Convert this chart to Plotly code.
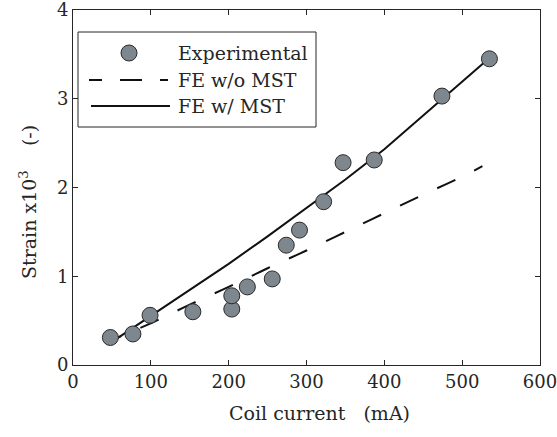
import plotly.graph_objects as go

# Experimental data
exp_current = [48, 77, 99, 154, 204, 204, 224, 256, 274, 291, 322, 347, 387, 474, 535]
exp_strain = [0.31, 0.35, 0.56, 0.60, 0.63, 0.78, 0.88, 0.97, 1.35, 1.52, 1.84, 2.28, 2.31, 3.03, 3.45]

# FE without MST (dashed)
fe_wo_current = [50, 100, 150, 200, 250, 300, 350, 400, 450, 500, 526]
fe_wo_strain = [0.28, 0.47, 0.68, 0.88, 1.09, 1.29, 1.50, 1.71, 1.92, 2.12, 2.24]

# FE with MST (solid)
fe_w_current = [50, 100, 150, 200, 250, 300, 350, 400, 450, 500, 535]
fe_w_strain = [0.26, 0.55, 0.84, 1.14, 1.45, 1.77, 2.09, 2.43, 2.81, 3.19, 3.46]

x_ticks = [0, 100, 200, 300, 400, 500, 600]
y_ticks = [0, 1, 2, 3, 4]

legend_labels = ["Experimental", "FE w/o MST", "FE w/ MST"]
x_title = "Coil current   (mA)"
y_title = "Strain x10<sup>3</sup>    (-)"

FONT = "DejaVu Serif"
AX = "#262626"
MARKER_FILL = "#7f878e"
MARKER_LINE = "#2a2a2a"
LINE_COL = "#111111"

fig = go.Figure()
fig.add_trace(go.Scatter(x=fe_wo_current, y=fe_wo_strain, mode="lines",
                         line=dict(color=LINE_COL, width=2, dash="10px,21px,10px,0px"),
                         name=legend_labels[1], showlegend=False))
fig.add_trace(go.Scatter(x=fe_w_current, y=fe_w_strain, mode="lines",
                         line=dict(color=LINE_COL, width=2),
                         name=legend_labels[2], showlegend=False))
fig.add_trace(go.Scatter(x=exp_current, y=exp_strain, mode="markers",
                         marker=dict(size=16, color=MARKER_FILL,
                                     line=dict(color=MARKER_LINE, width=1)),
                         name=legend_labels[0], showlegend=False))

W, H = 557, 437
L, R, T, B = 73, 540, 10, 365   # plot area in page pixels
def px(xp):
    return (xp - L) / (R - L)
def py(yp):
    return (B - yp) / (B - T)

shapes = []
annotations = []
shapes.append(dict(type="rect", xref="paper", yref="paper",
                   x0=px(78), x1=px(316), y0=py(127), y1=py(32),
                   line=dict(color=AX, width=1), fillcolor="white", layer="above"))
rows = [53, 80, 106]
shapes.append(dict(type="circle", xref="paper", yref="paper",
                   xsizemode="pixel", ysizemode="pixel",
                   xanchor=px(129), yanchor=py(rows[0]),
                   x0=-8, x1=8, y0=-8, y1=8,
                   fillcolor=MARKER_FILL, line=dict(color=MARKER_LINE, width=1),
                   layer="above"))
shapes.append(dict(type="line", xref="paper", yref="paper",
                   x0=px(89), x1=px(168), y0=py(rows[1]), y1=py(rows[1]),
                   line=dict(color=LINE_COL, width=2, dash="13px,18px,22px,18px,30px,5px"),
                   layer="above"))
shapes.append(dict(type="line", xref="paper", yref="paper",
                   x0=px(91), x1=px(170), y0=py(rows[2]), y1=py(rows[2]),
                   line=dict(color=LINE_COL, width=2), layer="above"))
for lab, r in zip(legend_labels, rows):
    annotations.append(dict(text=lab, xref="paper", yref="paper",
                            x=px(176), y=py(r), xanchor="left", yanchor="middle",
                            showarrow=False,
                            font=dict(family=FONT, size=19, color=AX)))

# axis titles placed as annotations (positioned like the reference)
annotations.append(dict(text=x_title, xref="paper", yref="paper",
                        x=px(319), y=py(413), xanchor="center", yanchor="middle",
                        showarrow=False, font=dict(family=FONT, size=19, color=AX)))
annotations.append(dict(text=y_title, xref="paper", yref="paper",
                        x=px(28), y=py(202), xanchor="center", yanchor="middle",
                        textangle=-90, showarrow=False,
                        font=dict(family=FONT, size=19, color=AX)))

fig.update_layout(
    width=W, height=H,
    margin=dict(l=L, r=W - R, t=T, b=H - B, autoexpand=False),
    paper_bgcolor="white", plot_bgcolor="white",
    font=dict(family=FONT, size=18, color=AX),
    showlegend=False,
    shapes=shapes,
    annotations=annotations,
    xaxis=dict(range=[0, 600], tickmode="array", tickvals=x_ticks,
               ticktext=[str(v) for v in x_ticks], automargin=False,
               ticklabeloverflow="allow",
               showgrid=False, zeroline=False, showline=True, linecolor=AX,
               linewidth=1, mirror="ticks", ticks="inside", ticklen=5,
               tickcolor=AX, tickfont=dict(family=FONT, size=18, color=AX)),
    yaxis=dict(range=[0, 4], tickmode="array", tickvals=y_ticks,
               ticktext=[str(v) for v in y_ticks], automargin=False,
               ticklabeloverflow="allow",
               showgrid=False, zeroline=False, showline=True, linecolor=AX,
               linewidth=1, mirror="ticks", ticks="inside", ticklen=5,
               tickcolor=AX, tickfont=dict(family=FONT, size=18, color=AX)),
)

fig.write_html("out.html",
               config={"displayModeBar": False},
               post_script="document.body.style.margin='0';"
                           "document.body.style.overflow='hidden';")
